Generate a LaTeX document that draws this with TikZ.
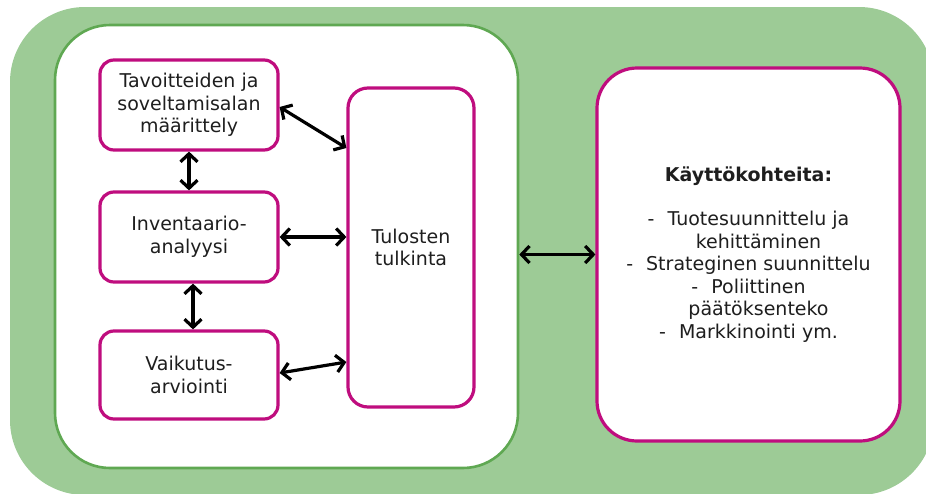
\documentclass[tikz,border=0pt]{standalone}
\usepackage{fontspec}
\setmainfont{DejaVu Sans}
\usetikzlibrary{arrows.meta,calc}
\definecolor{bggreen}{HTML}{9DCB96}
\definecolor{rimgreen}{HTML}{5FA852}
\definecolor{mag}{HTML}{BF0D7E}
\definecolor{txt}{HTML}{1E1E1E}
\begin{document}
\begin{tikzpicture}[x=1pt,y=-1pt,
  stepbox/.style={draw=mag, line width=3.2pt, fill=white, rounded corners=14pt,
    align=center, font=\fontsize{19}{22.5}\selectfont, text=txt, inner sep=0pt},
  link/.style={line width=3.2pt,
    {Straight Barb[length=8pt,width=17pt]}-{Straight Barb[length=8pt,width=17pt]}}]
\useasboundingbox (0,0) rectangle (926,493);
\clip (0,0) rectangle (926,493);
\fill[bggreen, rounded corners=75pt] (10,7) rectangle (934,495);
\node[draw=rimgreen, line width=2.6pt, fill=white, rounded corners=55pt,
  minimum width=463pt, minimum height=443pt, inner sep=0pt] (panel) at (286.5,246.5) {};
\node[stepbox, minimum width=178pt, minimum height=90pt] (goal) at (189,105)
  {Tavoitteiden ja\\soveltamisalan\\määrittely};
\node[stepbox, minimum width=178pt, minimum height=90pt] (inv) at (189,237)
  {Inventaario-\\analyysi};
\node[stepbox, minimum width=178pt, minimum height=88pt] (imp) at (189,375)
  {Vaikutus-\\arviointi};
\node[stepbox, rounded corners=20pt, minimum width=126pt, minimum height=319pt] (tul) at (411,247.5)
  {Tulosten\\tulkinta};
\node[stepbox, rounded corners=40pt, minimum width=303pt, minimum height=373pt] (use) at (748.5,254.5)
  {\textbf{Käyttökohteita:}\\[22pt]
   -\hspace{13pt}Tuotesuunnittelu ja\\
   \hspace*{20pt}kehittäminen\\
   -\hspace{13pt}Strateginen suunnittelu\\
   -\hspace{13pt}Poliittinen\\
   \hspace*{20pt}päätöksenteko\\
   -\hspace{13pt}Markkinointi ym.};
\draw[link] ([yshift=-2pt]goal.east) -- ([yshift=99.5pt]tul.west);
\draw[link] (goal.south) -- (inv.north);
\draw[link] ([xshift=4pt]inv.south) -- ([xshift=4pt]imp.north);
\draw[link] (inv.east) -- (inv.east -| tul.west);
\draw[link] ([yshift=2pt]imp.east) -- ([yshift=-114.5pt]tul.west);
\draw[link] (panel.east |- use.west) -- (use.west);
\end{tikzpicture}
\end{document}
